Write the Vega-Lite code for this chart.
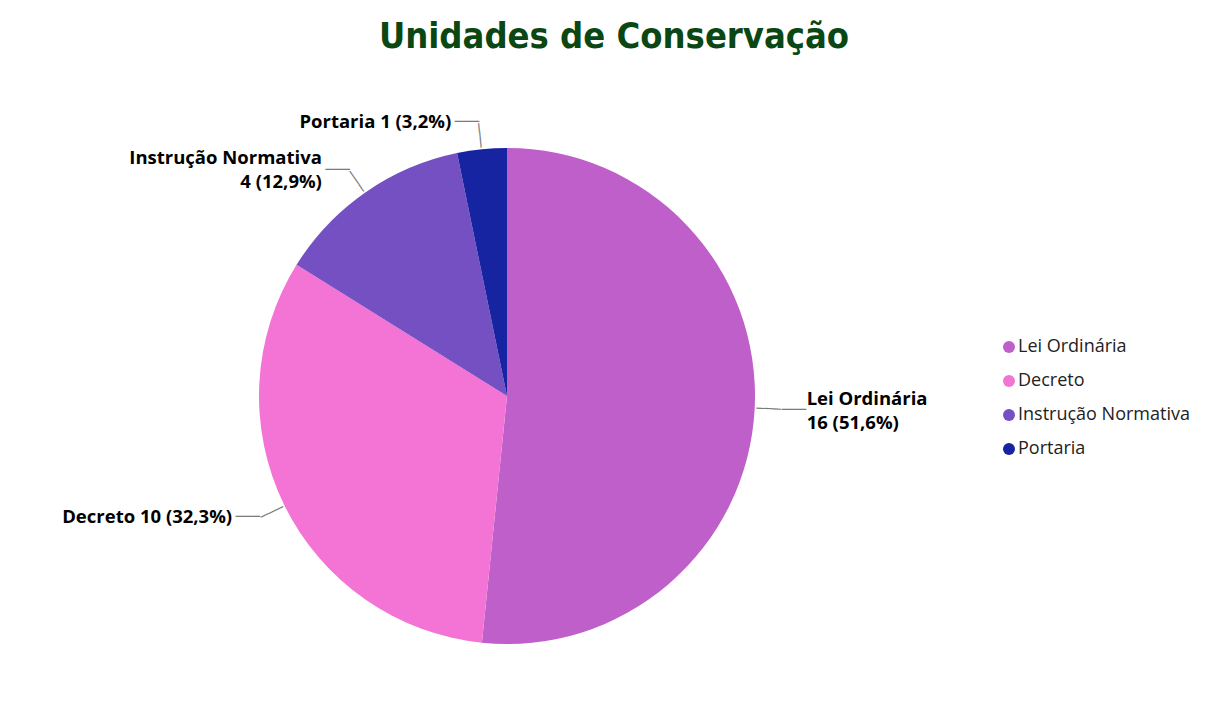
{
  "$schema": "https://vega.github.io/schema/vega-lite/v6.json",
  "width": 1014,
  "height": 672,
  "autosize": "none",
  "padding": {"left": 0, "top": 60, "right": 194, "bottom": 0},
  "background": "white",
  "title": {
    "text": "Unidades de Conservação",
    "font": "DejaVu Sans Condensed",
    "fontSize": 36,
    "fontWeight": "bold",
    "color": "#0a4712",
    "anchor": "middle",
    "frame": "group",
    "dx": 107,
    "dy": 32,
    "offset": 8,
    "baseline": "alphabetic"
  },
  "config": {"view": {"stroke": null}},
  "data": {
    "values": [
      {"tipo": "Lei Ordinária", "n": 16, "label": "Lei Ordinária\n16 (51,6%)"},
      {"tipo": "Decreto", "n": 10, "label": "Decreto 10 (32,3%)"},
      {"tipo": "Instrução Normativa", "n": 4, "label": "Instrução Normativa\n4 (12,9%)"},
      {"tipo": "Portaria", "n": 1, "label": "Portaria 1 (3,2%)"}
    ]
  },
  "encoding": {
    "theta": {"field": "n", "type": "quantitative", "stack": true},
    "order": {"field": "n", "sort": "descending"}
  },
  "layer": [
    {
      "mark": {"type": "arc", "outerRadius": 248},
      "encoding": {
        "color": {
          "field": "tipo",
          "type": "nominal",
          "scale": {
            "domain": ["Lei Ordinária", "Decreto", "Instrução Normativa", "Portaria"],
            "range": ["#bf5fc9", "#f374d4", "#7450c2", "#1724a1"]
          },
          "legend": {
            "title": null,
            "orient": "none",
            "legendX": 1000,
            "legendY": 278,
            "symbolType": "circle",
            "symbolSize": 144,
            "symbolStrokeWidth": 0,
            "labelFont": "Open Sans",
            "labelFontSize": 18,
            "labelColor": "#222222",
            "labelLimit": 400,
            "rowPadding": 16,
            "labelOffset": 0,
            "padding": 0
          }
        }
      }
    },
    {
      "mark": {
        "type": "text",
        "radius": 262,
        "text": "───",
        "font": "DejaVu Sans Mono",
        "fontSize": 13.5,
        "color": "#7a7a7a",
        "align": "center",
        "baseline": "middle",
        "angle": {"expr": "scale('theta', (datum.n_start + datum.n_end) / 2) * 180 / PI - 90"}
      }
    },
    {
      "mark": {
        "type": "text",
        "radius": 275,
        "font": "DejaVu Sans Mono",
        "fontSize": 13.5,
        "color": "#7a7a7a",
        "align": "left",
        "baseline": "middle"
      },
      "encoding": {
        "text": {
          "condition": {"test": "datum.tipo === 'Lei Ordinária'", "value": "───"},
          "value": ""
        }
      }
    },
    {
      "mark": {
        "type": "text",
        "radius": 275,
        "font": "DejaVu Sans Mono",
        "fontSize": 13.5,
        "color": "#7a7a7a",
        "align": "right",
        "baseline": "middle"
      },
      "encoding": {
        "text": {
          "condition": {"test": "datum.tipo !== 'Lei Ordinária'", "value": "───"},
          "value": ""
        }
      }
    },
    {
      "mark": {
        "type": "text",
        "radius": 275,
        "align": "left",
        "baseline": "middle",
        "dx": 25,
        "dy": -11,
        "font": "Open Sans",
        "fontWeight": "bold",
        "fontSize": 18.5,
        "lineBreak": "\n",
        "lineHeight": 24,
        "color": "#000000"
      },
      "encoding": {
        "text": {
          "condition": {"test": "datum.tipo === 'Lei Ordinária'", "field": "label", "type": "nominal"},
          "value": ""
        }
      }
    },
    {
      "mark": {
        "type": "text",
        "radius": 275,
        "align": "right",
        "baseline": "middle",
        "dx": -28,
        "dy": -12,
        "font": "Open Sans",
        "fontWeight": "bold",
        "fontSize": 18.5,
        "lineBreak": "\n",
        "lineHeight": 24,
        "color": "#000000"
      },
      "encoding": {
        "text": {
          "condition": {"test": "datum.tipo === 'Instrução Normativa'", "field": "label", "type": "nominal"},
          "value": ""
        }
      }
    },
    {
      "mark": {
        "type": "text",
        "radius": 275,
        "align": "right",
        "baseline": "middle",
        "dx": -28,
        "font": "Open Sans",
        "fontWeight": "bold",
        "fontSize": 18.5,
        "color": "#000000"
      },
      "encoding": {
        "text": {
          "condition": {"test": "datum.tipo === 'Decreto' || datum.tipo === 'Portaria'", "field": "label", "type": "nominal"},
          "value": ""
        }
      }
    }
  ]
}
